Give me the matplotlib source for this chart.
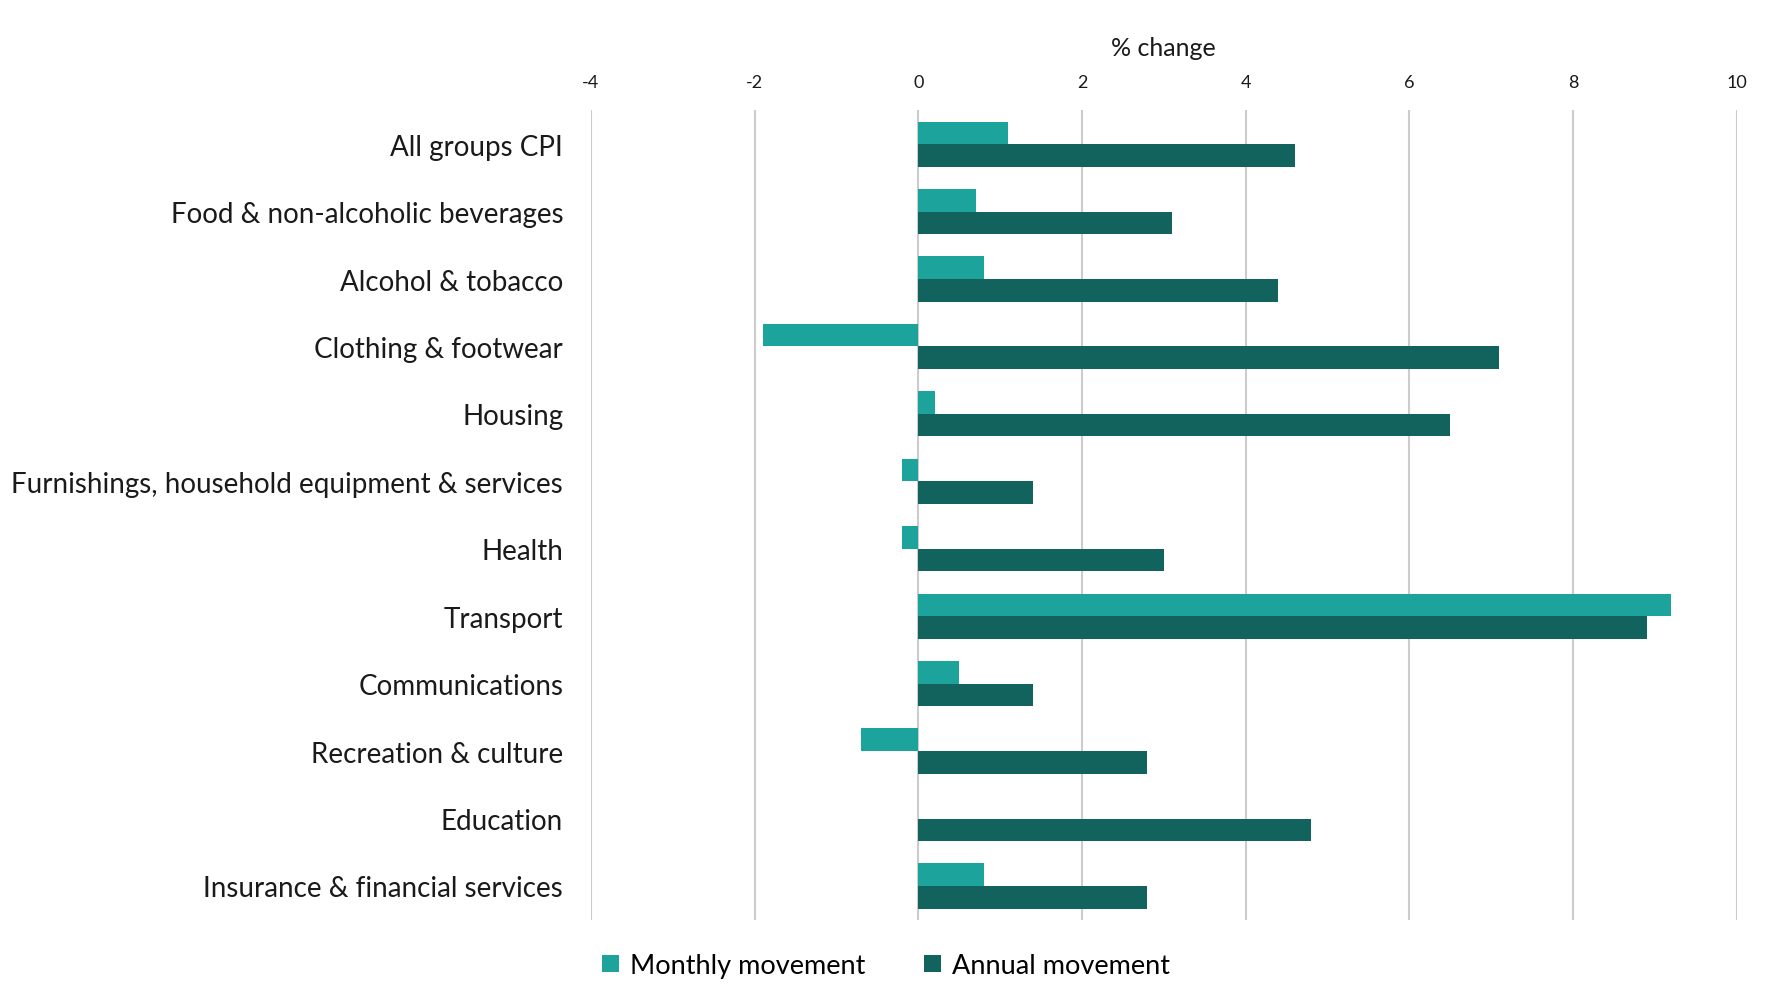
import matplotlib
matplotlib.use("Agg")
import matplotlib.pyplot as plt
import numpy as np

categories = [
    "All groups CPI",
    "Food & non-alcoholic beverages",
    "Alcohol & tobacco",
    "Clothing & footwear",
    "Housing",
    "Furnishings, household equipment & services",
    "Health",
    "Transport",
    "Communications",
    "Recreation & culture",
    "Education",
    "Insurance & financial services",
]
monthly = [1.1, 0.7, 0.8, -1.9, 0.2, -0.2, -0.2, 9.2, 0.5, -0.7, 0.0, 0.8]
annual = [4.6, 3.1, 4.4, 7.1, 6.5, 1.4, 3.0, 8.9, 1.4, 2.8, 4.8, 2.8]
xticks = [-4, -2, 0, 2, 4, 6, 8, 10]
series_names = ["Monthly movement", "Annual movement"]

plt.rcParams['font.family'] = ['Lato', 'DejaVu Sans']

fig = plt.figure(figsize=(17.72, 10.04), dpi=100)
ax = fig.add_axes([0.3335, 0.083, 0.980 - 0.3335, 0.889 - 0.083])

c_month = "#1BA39C"
c_ann = "#12625E"
y = np.arange(len(categories))
h = 0.335
ax.barh(y - h / 2, monthly, height=h, color=c_month, label=series_names[0], zorder=3)
ax.barh(y + h / 2, annual, height=h, color=c_ann, label=series_names[1], zorder=3)

ax.set_ylim(len(categories) - 0.5, -0.5)
ax.set_xlim(-4, 10)
ax.set_xticks(xticks)
ax.set_xticklabels([str(t) for t in xticks])
ax.xaxis.tick_top()
ax.xaxis.set_label_position('top')
ax.set_xlabel("% change", fontsize=18, labelpad=14, color="#1a1a1a")
ax.tick_params(axis='x', length=0, labelsize=13, pad=14.5, colors="#1a1a1a")
ax.set_yticks(y)
ax.set_yticklabels(categories)
ax.tick_params(axis='y', length=0, labelsize=20, pad=20, colors="#1a1a1a")
for s in ax.spines.values():
    s.set_visible(False)
ax.grid(axis='x', color="#CCCCCC", linewidth=1.5, zorder=0)
ax.set_axisbelow(True)

fig.legend(loc='center', bbox_to_anchor=(0.5, 0.037), ncol=2, frameon=False,
           fontsize=19.5, handlelength=0.6, handleheight=0.6, handletextpad=0.4,
           columnspacing=2.2)

fig.savefig("out.png", dpi=100)
